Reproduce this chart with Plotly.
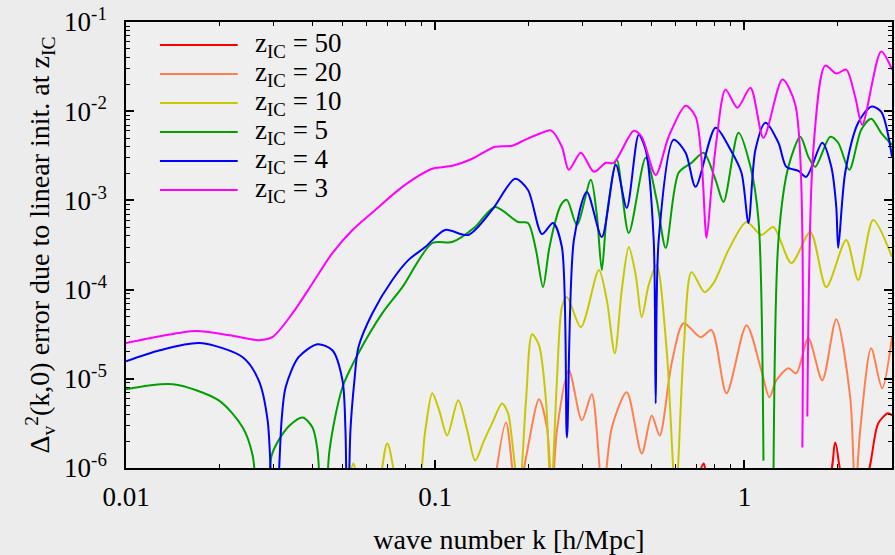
import plotly.graph_objects as go

# ---------------- data ----------------
labels = ["z<sub>IC</sub> = 50", "z<sub>IC</sub> = 20", "z<sub>IC</sub> = 10",
          "z<sub>IC</sub> = 5", "z<sub>IC</sub> = 4", "z<sub>IC</sub> = 3"]
colors = ["#ff0000", "#ff7f50", "#c8c800", "#00a000", "#0000ff", "#ff00ff"]

k_z50 = [0.7106, 0.7376, 0.7655, 1.84, 1.966, 2.10, 2.44, 2.706, 2.914, 3.0]
v_z50 = [8e-7, 1.124e-6, 8e-7, 7e-7, 1.93e-6, 7e-7, 7e-7, 3.16e-6, 4.10e-6, 3.89e-6]

k_z20 = [0.1539, 0.1694, 0.1838, 0.2165, 0.2297, 0.2384, 0.2475, 0.2705, 0.2980, 0.3209,
         0.3483, 0.3724, 0.4163, 0.4653, 0.5012, 0.5318, 0.5815, 0.6357, 0.7213, 0.7826,
         0.8750, 1.015, 1.134, 1.204, 1.268, 1.387, 1.471, 1.609, 1.785, 1.981,
         2.198, 2.280, 2.367, 2.569, 2.787, 3.0]
v_z20 = [5e-7, 3.24e-6, 5e-7, 5.88e-6, 2.85e-6, 5e-7, 2.64e-6, 1.246e-5, 3.42e-6, 6.70e-6,
         5e-7, 2.85e-6, 7.05e-6, 1.455e-6, 3.89e-6, 2.32e-6, 1.494e-5, 4.20e-5, 2.93e-5, 3.51e-5,
         6.87e-6, 3.99e-5, 1.246e-5, 6.20e-6, 9.62e-6, 1.31e-5, 1.153e-5, 2.85e-5, 9.62e-6, 4.66e-5,
         6.20e-6, 5e-7, 2.64e-6, 2.20e-5, 7.82e-6, 2.93e-5]

k_z10 = [0.0515, 0.05439, 0.0575, 0.0640, 0.0700, 0.0775, 0.0865, 0.09285, 0.0978, 0.1030,
         0.1093, 0.1187, 0.1269, 0.1346, 0.1439, 0.1527, 0.1645, 0.1720, 0.1772, 0.1866,
         0.1966, 0.2056, 0.2165, 0.2281, 0.2367, 0.2475, 0.2568, 0.2666, 0.2958, 0.3381,
         0.3588, 0.3808, 0.4010, 0.4225, 0.4450, 0.4653, 0.4901, 0.5201, 0.5604, 0.5991,
         0.6357, 0.6745, 0.7430, 0.7943, 0.8880, 1.015, 1.134, 1.240, 1.418, 1.633,
         1.839, 2.133, 2.332, 2.607, 3.0]
v_z10 = [5e-7, 1.124e-6, 5e-7, 5e-7, 1.885e-6, 5e-7, 5e-7, 2.64e-6, 6.87e-6, 4.43e-6,
         2.32e-6, 5.73e-6, 2.64e-6, 1.21e-6, 2.04e-6, 3.16e-6, 5.30e-6, 4.10e-6, 2.04e-6, 5e-7,
         5.73e-6, 3.16e-5, 2.38e-5, 5.73e-6, 5e-7, 9.62e-6, 6.36e-5, 8.24e-5, 3.79e-5, 1.656e-4,
         7.62e-5, 1.93e-5, 9.87e-5, 3.00e-4, 1.455e-4, 4.91e-5, 1.124e-4, 1.885e-4, 2.09e-5, 5e-7,
         2.09e-5, 1.57e-4, 9.37e-5, 1.18e-4, 2.78e-4, 5.73e-4, 4.10e-4, 5.04e-4, 1.986e-4, 4.43e-4,
         1.067e-4, 3.60e-4, 1.28e-4, 6.04e-4, 2.32e-4]

k_z5 = [0.01, 0.01418, 0.01995, 0.02385, 0.02568, 0.02746, 0.02958, 0.03114, 0.03381, 0.03724,
        0.0401, 0.04163, 0.04351, 0.0455, 0.05012, 0.05644, 0.06745, 0.0783, 0.0978, 0.1135,
        0.1346, 0.1561, 0.1853, 0.1995, 0.2117, 0.2231, 0.2332, 0.2438, 0.2550, 0.2666,
        0.2871, 0.3185, 0.3331, 0.3457, 0.3588, 0.3866, 0.4225, 0.4793, 0.5201, 0.5563,
        0.6124, 0.6745, 0.7376, 0.8063, 0.8557, 0.9563, 1.0457, 1.110, 1.152, 1.195,
        1.240, 1.288, 1.387, 1.516, 1.609, 1.694, 1.894, 2.010, 2.182, 2.385,
        2.569, 2.766, 3.0]
v_z5 = [7.62e-6, 8.68e-6, 5.73e-6, 2.85e-6, 1.38e-6, 1e-7, 1.38e-6, 2.04e-6, 3.00e-6, 3.69e-6,
        2.85e-6, 1.57e-6, 1e-7, 1.57e-6, 8.03e-6, 1.93e-5, 5.44e-5, 1.067e-4, 3.33e-4, 3.42e-4,
        5.04e-4, 8.45e-4, 5.73e-4, 5.59e-4, 2.78e-4, 1.067e-4, 2.78e-4, 5.59e-4, 8.9e-4, 1.013e-3,
        5.30e-4, 1.70e-3, 6.87e-4, 1.656e-4, 6.87e-4, 2.85e-3, 4.31e-4, 3.00e-3, 1.013e-3, 2.93e-4,
        2.04e-3, 2.64e-3, 3.42e-3, 1.70e-3, 9.62e-4, 5.73e-3, 2.38e-3, 6.04e-4, 1.21e-6, None,
        5e-7, 3.60e-4, 2.38e-3, 5.17e-3, 3.08e-3, 2.38e-3, 5.17e-3, 4.43e-3, 2.20e-3, 6.20e-3,
        8.24e-3, 5.73e-3, 4.20e-3]

k_z4 = [0.01, 0.01287, 0.01733, 0.02385, 0.02686, 0.02871, 0.03024, 0.03185, 0.03282, 0.03614,
        0.04163, 0.0465, 0.05012, 0.05125, 0.05201, 0.05318, 0.05479, 0.05644, 0.06263, 0.07265,
        0.08183, 0.09285, 0.1077, 0.1278, 0.1527, 0.1812, 0.1995, 0.2214, 0.2403, 0.2568,
        0.2666, 0.2808, 0.3093, 0.3457, 0.3837, 0.4163, 0.4550, 0.4793, 0.5087, 0.5163,
        0.5280, 0.5902, 0.6452, 0.6949, 0.8063, 0.9013, 0.9779, 1.030, 1.085, 1.169,
        1.288, 1.366, 1.494, 1.585, 1.785, 1.909, 1.981, 2.010, 2.117, 2.332,
        2.569, 2.766, 3.0]
v_z4 = [1.57e-5, 2.09e-5, 2.52e-5, 1.745e-5, 9.62e-6, 3.42e-6, 1e-7, 3.42e-6, 8.03e-6, 1.745e-5,
        2.44e-5, 2.09e-5, 9.62e-6, 2.64e-6, 1e-7, 2.64e-6, 9.62e-6, 2.26e-5, 5.44e-5, 1.28e-4,
        2.14e-4, 3.00e-4, 4.66e-4, 4.10e-4, 7.82e-4, 1.745e-3, 1.31e-3, 4.20e-4, 5.59e-4, 3.00e-4,
        2.20e-6, 3.60e-4, 1.246e-3, 3.89e-4, 2.51e-3, 8.24e-4, 5.44e-3, 3.69e-3, 3.60e-4, 5.30e-6,
        3.60e-4, 4.78e-3, 3.42e-3, 1.42e-3, 6.53e-3, 3.69e-3, 2.04e-3, 5.59e-4, 3.69e-3, 7.43e-3,
        4.43e-3, 2.38e-3, 2.14e-3, 1.84e-3, 4.43e-3, 2.38e-3, 8.45e-4, 2.93e-4, 2.04e-3, 7.43e-3,
        1.124e-2, 9.87e-3, 3.08e-3]

k_z3 = [0.01, 0.01287, 0.01682, 0.02165, 0.02686, 0.0298, 0.03457, 0.0401, 0.0465, 0.054,
        0.064, 0.0783, 0.0978, 0.1135, 0.1317, 0.1561, 0.1772, 0.1951, 0.2214, 0.2367,
        0.2568, 0.2705, 0.2958, 0.3258, 0.3561, 0.3779, 0.4385, 0.4653, 0.5163, 0.5686,
        0.6452, 0.6949, 0.7266, 0.7541, 0.7826, 0.8124, 0.8685, 0.9493, 1.0457, 1.152,
        1.326, 1.460, 1.539, 1.565, 1.597, 1.670, 1.825, 1.981, 2.133, 2.280,
        2.403, 2.766, 3.0]
v_z3 = [2.52e-5, 3.00e-5, 3.44e-5, 3.08e-5, 2.71e-5, 2.95e-5, 5.44e-5, 1.18e-4, 2.57e-4, 4.66e-4,
        7.82e-4, 1.42e-3, 2.26e-3, 2.44e-3, 2.93e-3, 3.99e-3, 4.10e-3, 4.78e-3, 5.73e-3, 6.09e-3,
        3.99e-3, 2.20e-3, 3.42e-3, 2.09e-3, 2.64e-3, 2.64e-3, 6.04e-3, 5.17e-3, 1.93e-3, 5.17e-3,
        1.153e-2, 8.68e-3, 2.85e-3, 3.79e-4, 1.42e-3, 4.78e-3, 1.745e-2, 1.095e-2, 1.837e-2, 5.04e-3,
        2.26e-2, 1.18e-2, 1.70e-6, None, 3.79e-6, 3.69e-3, 3.24e-2, 2.64e-2, 2.93e-2, 1.455e-2,
        7.05e-3, 4.66e-2, 2.93e-2]

x_tickvals = [0.01, 0.1, 1]
x_ticktext = ["0.01", "0.1", "1"]
y_tickvals = [1e-6, 1e-5, 1e-4, 1e-3, 1e-2, 1e-1]
y_ticktext = ["10<sup>-6</sup>", "10<sup>-5</sup>", "10<sup>-4</sup>",
              "10<sup>-3</sup>", "10<sup>-2</sup>", "10<sup>-1</sup>"]
x_minor = [m * d for d in (0.01, 0.1, 1) for m in range(2, 10) if m * d <= 3]
y_minor = [m * d for d in (1e-6, 1e-5, 1e-4, 1e-3, 1e-2) for m in range(2, 10)]

series_k = [k_z50, k_z20, k_z10, k_z5, k_z4, k_z3]
series_v = [v_z50, v_z20, v_z10, v_z5, v_z4, v_z3]

# ---------------- figure ----------------
FONT = "Liberation Serif, Times New Roman, serif"
W, H = 895, 555
ML, MR, MT, MB = 126, 1, 22, 87
PW, PH = W - ML - MR, H - MT - MB

fig = go.Figure()
for name, col, kk, vv in zip(labels, colors, series_k, series_v):
    fig.add_trace(go.Scatter(
        x=kk, y=vv, name=name, mode="lines",
        line=dict(color=col, width=2, shape="spline", smoothing=0.8),
        connectgaps=False, showlegend=False))

# legend drawn as a key in the upper-left corner (long sample lines, tight rows)
for i, (name, col) in enumerate(zip(labels, colors)):
    ypx = 45 + 29 * i
    yp = 1 - (ypx - MT) / PH
    fig.add_shape(type="line", xref="paper", yref="paper",
                  x0=(160 - ML) / PW, x1=(238 - ML) / PW, y0=yp, y1=yp,
                  line=dict(color=col, width=2))
    fig.add_annotation(xref="paper", yref="paper", x=(253 - ML) / PW, y=yp,
                       xanchor="left", yanchor="middle", showarrow=False,
                       text=name, font=dict(family=FONT, size=27, color="black"))

axis_common = dict(
    type="log", showgrid=False, zeroline=False,
    showline=True, linecolor="black", linewidth=1.5, mirror="ticks",
    ticks="inside", ticklen=8, tickwidth=1.5, tickcolor="black",
    tickfont=dict(family=FONT, size=27, color="black"),
)

fig.update_xaxes(
    **axis_common,
    range=[-2, 0.4771],
    tickmode="array", tickvals=x_tickvals, ticktext=x_ticktext,
    ticklabelstandoff=4,
    minor=dict(ticks="inside", ticklen=4, tickwidth=1, tickcolor="black",
               tickmode="array", tickvals=x_minor),
    title=dict(text="wave number k [h/Mpc]", font=dict(family=FONT, size=28, color="black"),
               standoff=18),
)
fig.update_yaxes(
    **axis_common,
    range=[-6, -1],
    tickmode="array", tickvals=y_tickvals, ticktext=y_ticktext,
    ticklabelstandoff=12,
    minor=dict(ticks="inside", ticklen=4, tickwidth=1, tickcolor="black",
               tickmode="array", tickvals=y_minor),
    title=dict(text="Δ<sub>v</sub><sup>2</sup>(k,0) error due to linear init. at z<sub>IC</sub>",
               font=dict(family=FONT, size=28, color="black"), standoff=6),
)

fig.update_layout(
    width=W, height=H,
    margin=dict(l=ML, r=MR, t=MT, b=MB),
    paper_bgcolor="#ececec", plot_bgcolor="#efefef",
    font=dict(family=FONT, size=27, color="black"),
    showlegend=False,
)

fig.write_html("out.html")
